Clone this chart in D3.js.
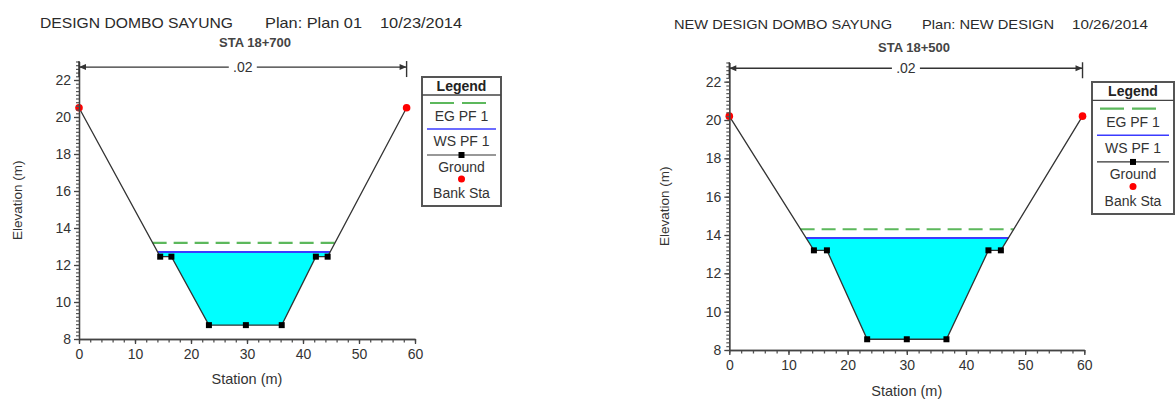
<!DOCTYPE html>
<html>
<head>
<meta charset="utf-8">
<script src="https://cdn.jsdelivr.net/npm/d3@7"></script>
<style>
    body { margin: 0; background: #fff; }
    text { font-family: "Liberation Sans", Arial, sans-serif; fill: #333; }
</style>
</head>
<body>
<svg id="chart" width="1175" height="399"></svg>
<script>
// left section: DESIGN DOMBO SAYUNG, STA 18+700
var leftStation = [0, 14.5, 16.5, 23.2, 29.8, 36.2, 42.3, 44.4, 58.5];
var leftElevation = [20.5, 12.45, 12.45, 8.75, 8.75, 8.75, 12.45, 12.45, 20.5];
var leftWS = 12.7;
var leftEG = 13.2;

// right section: NEW DESIGN DOMBO SAYUNG, STA 18+500
var rightStation = [0, 14.3, 16.5, 23.3, 30.0, 36.7, 43.8, 45.9, 59.7];
var rightElevation = [20.2, 13.2, 13.2, 8.56, 8.56, 8.56, 13.2, 13.2, 20.2];
var rightWS = 13.85;
var rightEG = 14.3;

var stationTicks = [0, 10, 20, 30, 40, 50, 60];
var elevationTicks = [8, 10, 12, 14, 16, 18, 20, 22];
var legendLabels = ["EG PF 1", "WS PF 1", "Ground", "Bank Sta"];
var manningN = ".02";

var svg = d3.select("#chart");

var panels = [
    {
        station: leftStation, elevation: leftElevation, ws: leftWS, eg: leftEG,
        title: ["DESIGN DOMBO SAYUNG", "Plan: Plan 01", "10/23/2014"],
        titleX: [40, 265, 380], titleW: [193, 97, 82], titleY: 28, titleSize: 15,
        sta: "STA 18+700", staX: 255, staY: 47,
        x0: 79, x1: 415, yb: 339, yt: 61.5,
        xLabY: 358, xTitleY: 384, yTitleX: 17,
        legend: { x: 422, y: 77, w: 79, h: 129, k: 1 }
    },
    {
        station: rightStation, elevation: rightElevation, ws: rightWS, eg: rightEG,
        title: ["NEW DESIGN DOMBO SAYUNG", "Plan: NEW DESIGN", "10/26/2014"],
        titleX: [674, 922, 1072], titleW: [218, 132, 76], titleY: 29, titleSize: 13.5,
        sta: "STA 18+500", staX: 914, staY: 52,
        x0: 729.3, x1: 1084.3, yb: 350, yt: 62.5,
        xLabY: 370, xTitleY: 396, yTitleX: 664,
        legend: { x: 1092, y: 82, w: 82, h: 132, k: 1.025 }
    }
];

// points where the ground crosses a water level, left and right
function crossings(st, el, level) {
    var out = [];
    for (var i = 0; i < st.length - 1; i++) {
        var a = el[i], b = el[i + 1];
        if ((a - level) * (b - level) < 0) {
            var t = (level - a) / (b - a);
            out.push(st[i] + t * (st[i + 1] - st[i]));
        }
    }
    return out;
}

function waterArea(st, el, level) {
    var pts = [];
    for (var i = 0; i < st.length; i++) {
        if (el[i] < level) pts.push([st[i], el[i]]);
        if (i < st.length - 1 && (el[i] - level) * (el[i + 1] - level) < 0) {
            var t = (level - el[i]) / (el[i + 1] - el[i]);
            pts.push([st[i] + t * (st[i + 1] - st[i]), level]);
        }
    }
    return pts;
}

function drawPanel(p) {
    var x = d3.scaleLinear().domain([0, 60]).range([p.x0, p.x1]);
    var y = d3.scaleLinear().domain([8, 23]).range([p.yb, p.yt]);
    var g = svg.append("g");

    // titles
    p.title.forEach(function (t, i) {
        g.append("text")
            .attr("x", p.titleX[i]).attr("y", p.titleY)
            .attr("textLength", p.titleW[i]).attr("lengthAdjust", "spacingAndGlyphs")
            .style("font-size", p.titleSize + "px").style("fill", "#2a2a2a")
            .text(t);
    });
    g.append("text")
        .attr("x", p.staX).attr("y", p.staY)
        .attr("text-anchor", "middle")
        .style("font-size", "13px").style("font-weight", "bold").style("fill", "#444")
        .text(p.sta);

    // water fill
    var line = d3.line().x(function (d) { return x(d[0]); }).y(function (d) { return y(d[1]); });
    g.append("path")
        .attr("d", line(waterArea(p.station, p.elevation, p.ws)) + "Z")
        .attr("fill", "#00ffff");

    // energy grade and water surface
    var egX = crossings(p.station, p.elevation, p.eg);
    g.append("line")
        .attr("x1", x(egX[0])).attr("x2", x(egX[egX.length - 1]))
        .attr("y1", y(p.eg)).attr("y2", y(p.eg))
        .attr("stroke", "#5cb85c").attr("stroke-width", 2.2)
        .attr("stroke-dasharray", "14,7");

    var wsX = crossings(p.station, p.elevation, p.ws);
    g.append("line")
        .attr("x1", x(wsX[0])).attr("x2", x(wsX[wsX.length - 1]))
        .attr("y1", y(p.ws)).attr("y2", y(p.ws))
        .attr("stroke", "#3b3bff").attr("stroke-width", 2);

    // ground
    var ground = p.station.map(function (s, i) { return [s, p.elevation[i]]; });
    g.append("path")
        .attr("d", line(ground))
        .attr("fill", "none").attr("stroke", "#333").attr("stroke-width", 1.3);

    g.selectAll(".gpt")
        .data(ground.slice(1, -1))
        .join("rect")
        .attr("x", function (d) { return x(d[0]) - 3; })
        .attr("y", function (d) { return y(d[1]) - 3; })
        .attr("width", 6).attr("height", 6)
        .attr("fill", "#000");

    g.selectAll(".bank")
        .data([ground[0], ground[ground.length - 1]])
        .join("circle")
        .attr("cx", function (d) { return x(d[0]); })
        .attr("cy", function (d) { return y(d[1]); })
        .attr("r", 3.8)
        .attr("fill", "#ff0000");

    // axes
    var minorY = d3.range(8, 23.01, 0.2);
    var minorX = d3.range(0, 60.01, 2);

    g.append("g")
        .attr("transform", "translate(" + p.x0 + ",0)")
        .call(d3.axisLeft(y).tickValues(minorY).tickSize(3).tickSizeOuter(0).tickFormat(""))
        .call(function (a) { a.selectAll("line, path").attr("stroke", "#555").attr("stroke-width", 1.2); });

    g.append("g")
        .attr("transform", "translate(" + p.x0 + ",0)")
        .call(d3.axisLeft(y).tickValues(elevationTicks).tickSize(5).tickSizeOuter(0).tickPadding(3))
        .call(function (a) {
            a.select(".domain").attr("stroke", "#444").attr("stroke-width", 1.4);
            a.selectAll("line").attr("stroke", "#444").attr("stroke-width", 1.3);
            a.selectAll("text").style("font-size", "14px").style("fill", "#333")
                .attr("font-family", null);
        });

    g.append("g")
        .attr("transform", "translate(0," + p.yb + ")")
        .call(d3.axisBottom(x).tickValues(minorX).tickSize(3.5).tickSizeOuter(0).tickFormat(""))
        .call(function (a) { a.selectAll("line, path").attr("stroke", "#555").attr("stroke-width", 1.3); });

    g.append("g")
        .attr("transform", "translate(0," + p.yb + ")")
        .call(d3.axisBottom(x).tickValues(stationTicks).tickSize(5).tickSizeOuter(0).tickPadding(5))
        .call(function (a) {
            a.select(".domain").attr("stroke", "#444").attr("stroke-width", 1.4);
            a.selectAll("line").attr("stroke", "#444").attr("stroke-width", 1.3);
            a.selectAll("text").style("font-size", "14px").style("fill", "#333")
                .attr("font-family", null);
        });

    g.append("text")
        .attr("x", (p.x0 + p.x1) / 2).attr("y", p.xTitleY)
        .attr("text-anchor", "middle")
        .style("font-size", "14.5px")
        .text("Station (m)");

    g.append("text")
        .attr("transform", "translate(" + p.yTitleX + "," + (p.yb + p.yt) / 2 + ") rotate(-90)")
        .attr("text-anchor", "middle").attr("dy", "0.35em")
        .style("font-size", "13.5px")
        .text("Elevation (m)");

    // roughness bracket between the bank stations
    var bx0 = x(p.station[0]), bx1 = x(p.station[p.station.length - 1]);
    var by = y(22.7), bc = (bx0 + bx1) / 2;
    [bx0, bx1].forEach(function (bx) {
        g.append("line").attr("x1", bx).attr("x2", bx)
            .attr("y1", by - 6).attr("y2", by + 10)
            .attr("stroke", "#333").attr("stroke-width", 1.4);
    });
    g.append("line").attr("x1", bx0).attr("x2", bc - 14).attr("y1", by).attr("y2", by)
        .attr("stroke", "#333").attr("stroke-width", 1.3);
    g.append("line").attr("x1", bc + 14).attr("x2", bx1).attr("y1", by).attr("y2", by)
        .attr("stroke", "#333").attr("stroke-width", 1.3);
    g.append("path")
        .attr("d", "M" + bx0 + "," + by + "l7,-3l0,6Z M" + bx1 + "," + by + "l-7,-3l0,6Z")
        .attr("fill", "#333");
    g.append("text")
        .attr("x", bc).attr("y", by).attr("dy", "0.35em")
        .attr("text-anchor", "middle")
        .style("font-size", "14px")
        .text(manningN);

    // legend
    var L = p.legend, k = L.k;
    var lg = g.append("g").attr("transform", "translate(" + L.x + "," + L.y + ")");
    lg.append("rect").attr("width", L.w).attr("height", L.h)
        .attr("fill", "#fff").attr("stroke", "#555").attr("stroke-width", 2);
    lg.append("line").attr("x1", 0).attr("x2", L.w).attr("y1", 18 * k).attr("y2", 18 * k)
        .attr("stroke", "#444").attr("stroke-width", 1.3);
    lg.append("text").attr("x", L.w / 2).attr("y", 9 * k).attr("dy", "0.35em")
        .attr("text-anchor", "middle")
        .style("font-size", "14px").style("font-weight", "bold").style("fill", "#222")
        .text("Legend");

    var cx = L.w / 2;
    lg.append("line").attr("x1", 8).attr("x2", L.w - 14).attr("y1", 26 * k).attr("y2", 26 * k)
        .attr("stroke", "#5cb85c").attr("stroke-width", 2.2).attr("stroke-dasharray", "24,8");
    lg.append("line").attr("x1", 5).attr("x2", L.w - 5).attr("y1", 52 * k).attr("y2", 52 * k)
        .attr("stroke", "#3b3bff").attr("stroke-width", 1.6);
    lg.append("line").attr("x1", 5).attr("x2", L.w - 5).attr("y1", 78 * k).attr("y2", 78 * k)
        .attr("stroke", "#333").attr("stroke-width", 1.2);
    lg.append("rect").attr("x", cx - 3).attr("y", 78 * k - 3).attr("width", 6).attr("height", 6)
        .attr("fill", "#000");
    lg.append("circle").attr("cx", cx).attr("cy", 102 * k).attr("r", 3.5).attr("fill", "#ff0000");

    var labelY = [39, 64, 90, 116];
    lg.selectAll(".ltxt")
        .data(legendLabels)
        .join("text")
        .attr("x", cx)
        .attr("y", function (d, i) { return labelY[i] * k; })
        .attr("dy", "0.35em")
        .attr("text-anchor", "middle")
        .style("font-size", "14px")
        .text(function (d) { return d; });
}

panels.forEach(drawPanel);
</script>
</body>
</html>
